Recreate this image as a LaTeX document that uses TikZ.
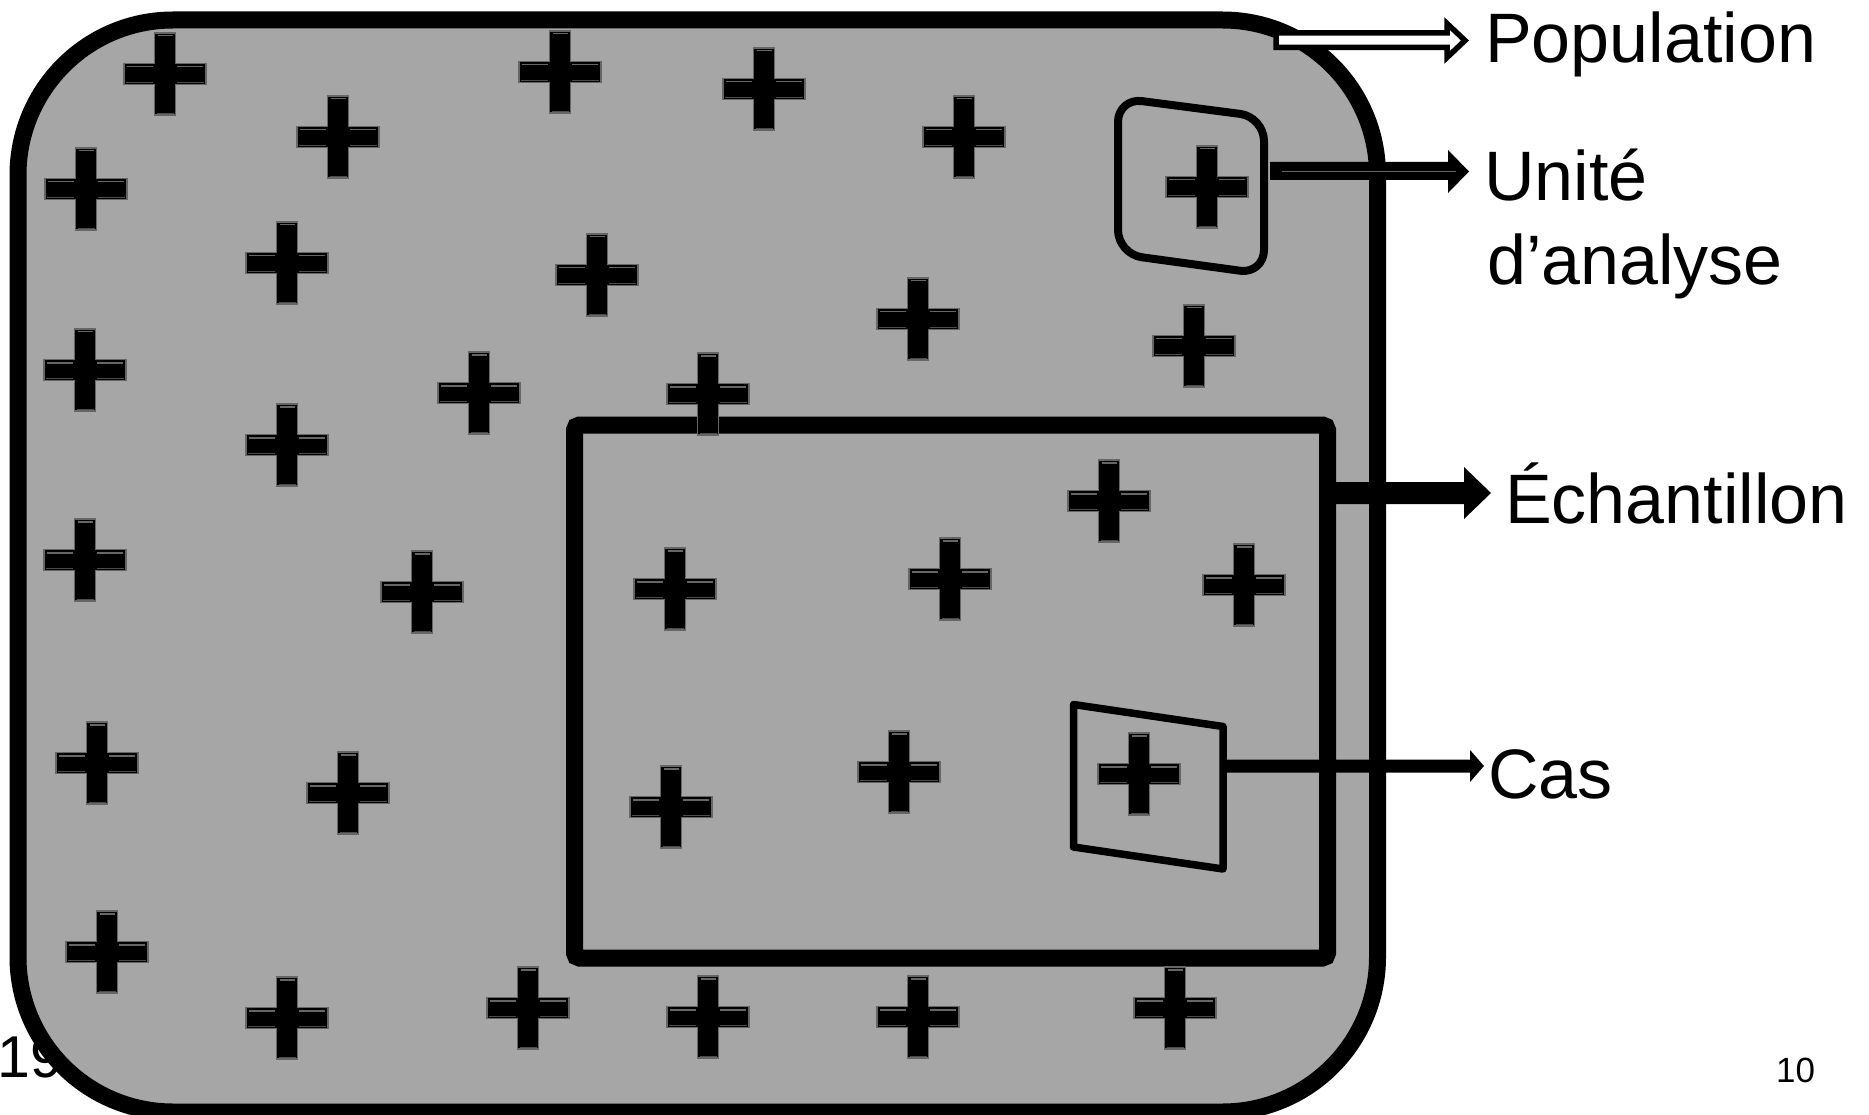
\documentclass[tikz,border=0pt]{standalone}
\usepackage{fontspec}
\setmainfont{Liberation Sans}
\definecolor{popgray}{HTML}{A6A6A6}
\tikzset{
  % bevelled black cross
  crossmark/.pic={
    \filldraw[fill=black, draw=black!60, line width=1.2pt, line join=miter]
      (-10.5,-41) -- (10.5,-41) -- (10.5,-10.5) -- (41,-10.5) -- (41,10.5)
      -- (10.5,10.5) -- (10.5,41) -- (-10.5,41) -- (-10.5,10.5) -- (-41,10.5)
      -- (-41,-10.5) -- (-10.5,-10.5) -- cycle;
    \draw[black!60, line width=1.4pt]
      (-38,-7.2) -- (-12,-7.2) (12,-7.2) -- (38,-7.2) (-7.5,-38.2) -- (7.5,-38.2);
    \draw[black!70, line width=1pt]
      (-39,8.8) -- (-12,8.8) (12,8.8) -- (39,8.8) (-8.5,39.2) -- (8.5,39.2);
  },
  label/.style={font=\fontsize{70}{84}\selectfont, anchor=base west, inner sep=0pt},
  blockarrow/.style={fill=black, draw=none}
}
\begin{document}
\begin{tikzpicture}[x=1pt, y=-1pt]
  \useasboundingbox (0,0) rectangle (1869,1115);

  % slide number, partly hidden by the population frame
  \node[font=\fontsize{59}{70}\selectfont, anchor=base west, inner sep=0pt] (slidenum) at (-3,1077) {19};

  % population
  \draw[fill=popgray, line width=17pt, rounded corners=155pt] (18,20) rectangle (1377.5,1112);

  % sample
  \draw[line width=17pt, rounded corners=5pt] (574.5,425) rectangle (1327.5,958);

  % unit of analysis
  \draw[line width=8pt, rounded corners=24pt, line join=round]
    (1118,98) -- (1264,117) -- (1264,274) -- (1118,254) -- cycle;

  % case
  \draw[line width=7.5pt, line join=round]
    (1073.5,704.5) -- (1223,726.5) -- (1223,869) -- (1073.5,847) -- cycle;

  % crosses
  \foreach \px/\py in {
      165/74, 560/72, 764/89, 338/137, 964/137, 86/189, 1207/187,
      287/263, 597/275, 918/319, 1194/346, 85/370, 479/393, 708/394,
      287/445, 1109/501, 85/560, 422/592, 675/589, 950/579, 1244/585,
      97/763, 348/793, 899/772, 1139/774, 671/807,
      107/952, 287/1018, 528/1008, 708/1017, 918/1017, 1175/1008}
    \pic at (\px,\py) {crossmark};

  % labels
  \node[label] (pop) at (1485,63) {Population};
  \node[label] (unite) at (1484,201) {Unité};
  \node[label] (analyse) at (1487,285) {d’analyse};
  \node[label] (ech) at (1505,523) {Échantillon};
  \node[label] (cas) at (1488,798) {Cas};

  % arrow to "Population" (hollow)
  \draw[fill=white, line width=5.5pt, line join=miter]
    (1276,33) -- (1447,33) -- (1447,23.5) -- (1465,40.5) -- (1447,57.5)
    -- (1447,47.5) -- (1276,47.5) -- cycle;

  % arrow to "Unité d'analyse"
  \path[blockarrow]
    (1270,162) -- (1448,162) -- (1448,150) -- (1469,171.5) -- (1448,193)
    -- (1448,180) -- (1270,180) -- cycle;
  \draw[black!60, line width=1.6pt] (1282,171.5) -- (1456,171.5);

  % arrow to "Échantillon"
  \path[blockarrow]
    (1336,482) -- (1464,482) -- (1464,467) -- (1491,493) -- (1464,519)
    -- (1464,504) -- (1336,504) -- cycle;

  % arrow to "Cas"
  \path[blockarrow]
    (1227,759.5) -- (1470,759.5) -- (1470,750) -- (1484,766) -- (1470,782)
    -- (1470,772.5) -- (1227,772.5) -- cycle;

  % page number
  \node[font=\fontsize{35}{42}\selectfont, anchor=base west, inner sep=0pt] (pagenum) at (1776,1082) {10};
\end{tikzpicture}
\end{document}
